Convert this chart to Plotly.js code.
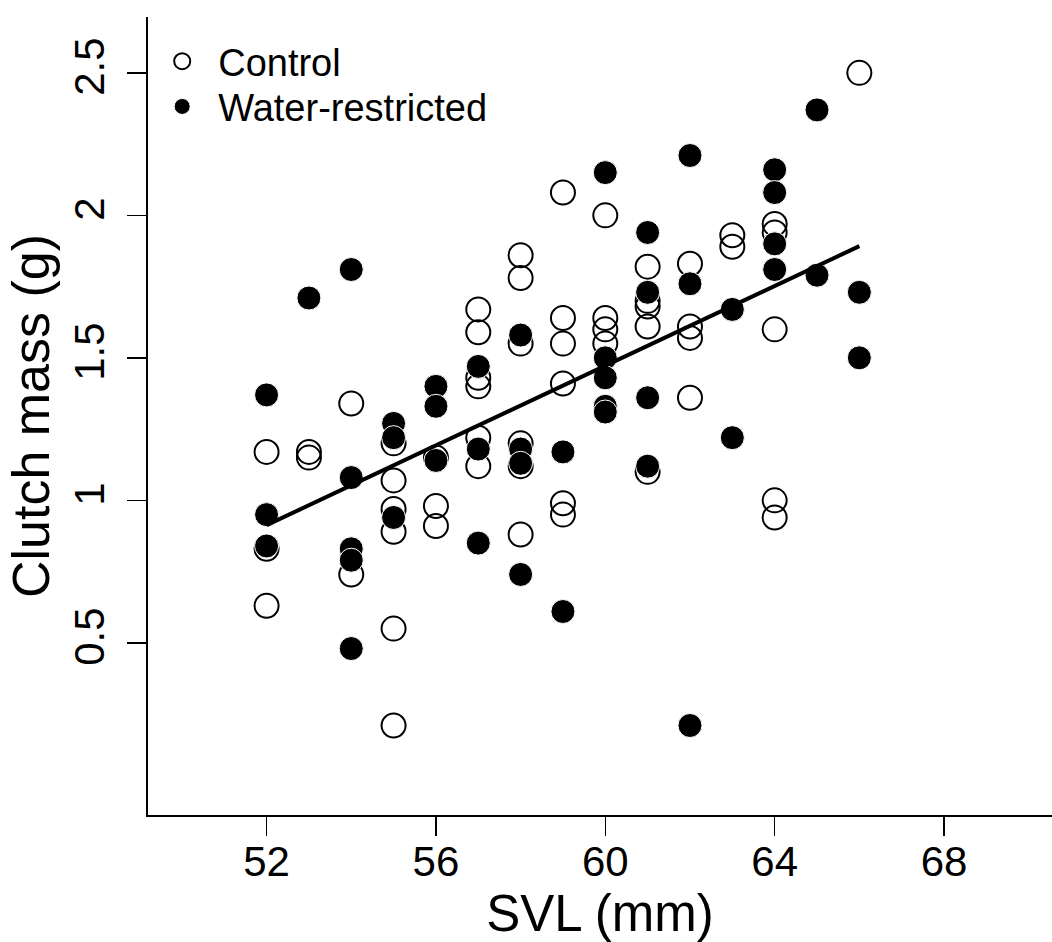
<!DOCTYPE html>
<html>
<head>
<meta charset="utf-8">
<script src="https://cdn.plot.ly/plotly-3.0.1.min.js"></script>
<style>html,body{margin:0;padding:0;background:#fff;}#chart{width:1052px;height:942px;}</style>
</head>
<body>
<div id="chart"></div>
<script>
// Control (open circles): SVL (mm) and clutch mass (g)
var controlSVL  = [52,52,52, 53,53, 54,54, 55,55,55,55,55,55, 56,56,56, 57,57,57,57,57,57, 58,58,58,58,58,58, 59,59,59,59,59,59, 60,60,60,60, 61,61,61,61,61, 62,62,62,62, 63,63, 64,64,64,64,64, 66];
var controlMass = [1.17,0.83,0.63, 1.17,1.15, 1.34,0.74, 1.20,1.07,0.97,0.89,0.55,0.21, 1.15,0.98,0.91, 1.67,1.59,1.43,1.40,1.22,1.12, 1.86,1.78,1.55,1.20,1.12,0.88, 2.08,1.64,1.55,1.41,0.99,0.95, 2.00,1.64,1.60,1.55, 1.82,1.70,1.68,1.61,1.10, 1.83,1.61,1.57,1.36, 1.93,1.89, 1.97,1.94,1.60,1.00,0.94, 2.50];

// Water-restricted (filled circles)
var waterSVL  = [52,52,52, 53, 54,54,54,54,54, 55,55,55, 56,56,56, 57,57,57, 58,58,58,58, 59,59, 60,60,60,60,60, 61,61,61,61, 62,62,62, 63,63, 64,64,64,64, 65,65, 66,66];
var waterMass = [1.37,0.95,0.84, 1.71, 1.81,1.08,0.83,0.79,0.48, 1.27,1.22,0.94, 1.40,1.33,1.14, 1.47,1.18,0.85, 1.58,1.18,1.13,0.74, 1.17,0.61, 2.15,1.50,1.43,1.33,1.31, 1.94,1.73,1.36,1.12, 2.21,1.76,0.21, 1.67,1.22, 2.16,2.08,1.90,1.81, 2.37,1.79, 1.73,1.50];

// Fitted regression line (end points)
var fitSVL  = [52, 66];
var fitMass = [0.913, 1.892];

var xTicks = [52, 56, 60, 64, 68];
var xTickLabels = ["52", "56", "60", "64", "68"];
var yTicks = [0.5, 1, 1.5, 2, 2.5];
var yTickLabels = ["0.5", "1", "1.5", "2", "2.5"];

var FONT = "Liberation Sans, Arial, Helvetica, sans-serif";

var traces = [
  {
    x: controlSVL, y: controlMass, type: "scatter", mode: "markers", name: "Control",
    legend: "legend",
    marker: {symbol: "circle-open", size: 24, color: "#000", line: {width: 2, color: "#000"}}
  },
  {
    x: waterSVL, y: waterMass, type: "scatter", mode: "markers", name: "Water-restricted",
    legend: "legend2",
    marker: {symbol: "circle", size: 24, color: "#000", line: {width: 1, color: "#fff"}}
  },
  {
    x: fitSVL, y: fitMass, type: "scatter", mode: "lines", showlegend: false,
    line: {color: "#000", width: 4}, hoverinfo: "skip"
  }
];

function legendAt(yPos) {
  return {
    x: -0.002, y: yPos, xanchor: "left", yanchor: "top",
    font: {family: FONT, size: 38, color: "#000"},
    bgcolor: "rgba(0,0,0,0)", itemsizing: "trace", itemwidth: 62
  };
}

var layout = {
  width: 1052, height: 942,
  margin: {l: 148, r: 0, t: 17, b: 127},
  paper_bgcolor: "#fff", plot_bgcolor: "#fff",
  font: {family: FONT, color: "#000"},
  showlegend: true,
  legend: legendAt(0.9837),
  legend2: legendAt(0.927),
  xaxis: {
    range: [49.2, 70.55], tickmode: "array", tickvals: xTicks, ticktext: xTickLabels,
    ticks: "outside", ticklen: 19, tickwidth: 1.5, tickcolor: "#000",
    showline: true, linewidth: 2, linecolor: "#000", mirror: false,
    showgrid: false, zeroline: false, ticklabelstandoff: -10,
    tickfont: {family: FONT, size: 42, color: "#000"},
    title: {text: "SVL (mm)", font: {family: FONT, size: 51, color: "#000"}, standoff: 18}
  },
  yaxis: {
    range: [-0.104, 2.696], tickmode: "array", tickvals: yTicks, ticktext: yTickLabels,
    ticks: "outside", ticklen: 19, tickwidth: 1.5, tickcolor: "#000",
    showline: true, linewidth: 2, linecolor: "#000", mirror: false,
    showgrid: false, zeroline: false, tickangle: -90, ticklabelstandoff: 6,
    tickfont: {family: FONT, size: 42, color: "#000"},
    title: {text: "Clutch mass (g)", font: {family: FONT, size: 52, color: "#000"}, standoff: 0}
  }
};

Plotly.newPlot("chart", traces, layout, {displayModeBar: false, staticPlot: true});
</script>
</body>
</html>
